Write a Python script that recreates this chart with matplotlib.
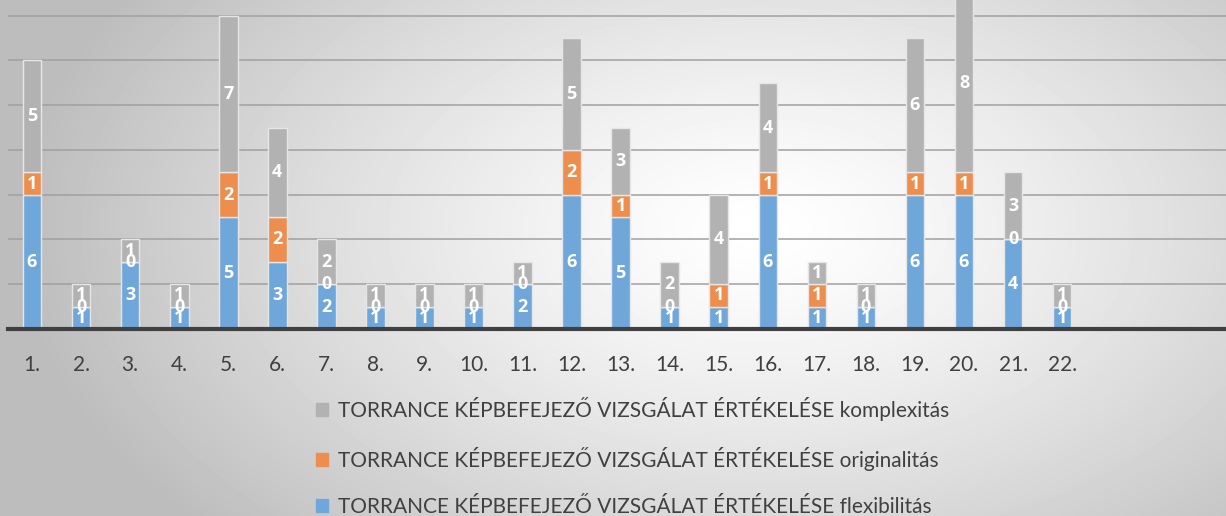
import numpy as np
import matplotlib.pyplot as plt
from matplotlib.patches import Patch

# Torrance test scores per participant
categories = [f"{i}." for i in range(1, 23)]
flexibilitas = [6, 1, 3, 1, 5, 3, 2, 1, 1, 1, 2, 6, 5, 1, 1, 6, 1, 1, 6, 6, 4, 1]
originalitas = [1, 0, 0, 0, 2, 2, 0, 0, 0, 0, 0, 2, 1, 0, 1, 1, 1, 0, 1, 1, 0, 0]
komplexitas = [5, 1, 1, 1, 7, 4, 2, 1, 1, 1, 1, 5, 3, 2, 4, 4, 1, 1, 6, 8, 3, 1]

series_names = [
    "TORRANCE KÉPBEFEJEZŐ VIZSGÁLAT ÉRTÉKELÉSE flexibilitás",
    "TORRANCE KÉPBEFEJEZŐ VIZSGÁLAT ÉRTÉKELÉSE originalitás",
    "TORRANCE KÉPBEFEJEZŐ VIZSGÁLAT ÉRTÉKELÉSE komplexitás",
]
colors = ["#6FA7DA", "#EE8E4E", "#B2B2B2"]

plt.rcParams['font.family'] = ['Lato', 'DejaVu Sans']

fig = plt.figure(figsize=(12.26, 5.16), dpi=100)

# radial grey background
bg = fig.add_axes([0, 0, 1, 1], zorder=-10)
yy, xx = np.mgrid[0:516, 0:1226]
r = np.sqrt(((xx - 760) / 700.0) ** 2 + ((yy - 230) / 420.0) ** 2)
shade = np.clip(1.0 - 0.24 * r ** 1.3, 0.74, 1.0)
bg.imshow(shade, cmap='gray', vmin=0, vmax=1, aspect='auto', extent=[0, 1, 0, 1])
bg.axis('off')

ax = fig.add_axes([8 / 1226, 1 - 329 / 516, 1 - 8 / 1226, 329 / 516])
ax.patch.set_alpha(0)

x = np.arange(len(categories))
w = 0.38
bottoms = np.zeros(len(categories))
for vals, name, c in zip([flexibilitas, originalitas, komplexitas], series_names, colors):
    vals = np.array(vals)
    ax.bar(x, vals, w, bottom=bottoms, color=c, edgecolor='#E6E6E6', linewidth=1, label=name, zorder=3)
    for xi, b, v in zip(x, bottoms, vals):
        ax.text(xi, b + v / 2, str(v), ha='center', va='center', color='white',
                fontsize=13, fontweight='bold', family=['Open Sans', 'DejaVu Sans'], zorder=5)
    bottoms = bottoms + vals

ax.set_xlim(-0.49, 24.34)
ax.set_ylim(0, 14.7)
ax.set_yticks(np.arange(0, 15, 2))
ax.yaxis.grid(True, color='#A0A0A0', linewidth=1.1, zorder=0)
ax.tick_params(left=False, labelleft=False, bottom=False)
for s in ['left', 'right', 'top']:
    ax.spines[s].set_visible(False)
ax.spines['bottom'].set_color('#404040')
ax.spines['bottom'].set_linewidth(3)
ax.spines['bottom'].set_zorder(6)
ax.set_xticks(x)
ax.set_xticklabels(categories, fontsize=15, color='#404040')
ax.tick_params(axis='x', pad=15)

handles = [Patch(color=c) for c in colors][::-1]
fig.legend(handles, series_names[::-1], loc='center', bbox_to_anchor=(0.516, 0.115),
           frameon=False, fontsize=15, labelcolor='#404040', handlelength=0.6,
           handleheight=0.6, handletextpad=0.5, labelspacing=1.25)

fig.savefig('out.png', dpi=100)
